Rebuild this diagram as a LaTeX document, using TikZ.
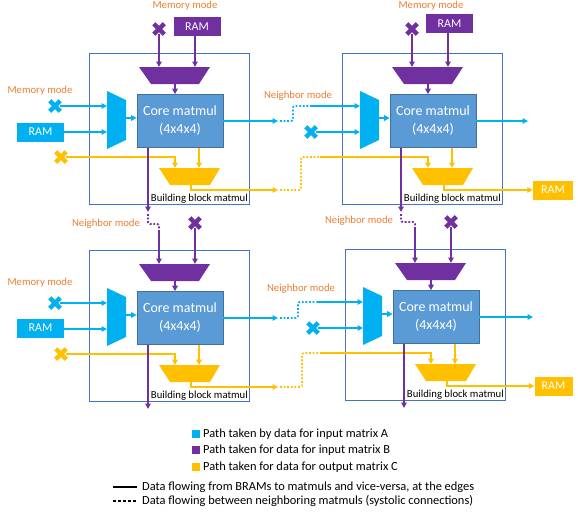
\documentclass[tikz,border=0pt]{standalone}
\usepackage{fontspec}
\setmainfont{Carlito}
\usetikzlibrary{arrows.meta}
\definecolor{cblue}{HTML}{00B0F0}
\definecolor{cpurp}{HTML}{7030A0}
\definecolor{cyel}{HTML}{FFC000}
\definecolor{ccore}{HTML}{5B9BD5}
\definecolor{ccoreb}{HTML}{41719C}
\definecolor{corange}{HTML}{ED7D31}
\definecolor{crect}{HTML}{4472C4}
\tikzset{
  arr/.style={line width=1.8pt, -{Triangle[length=5.5pt,width=5.5pt]}},
  dotl/.style={line width=1.8pt, dash pattern=on 1.8pt off 1.8pt, rounded corners=2pt},
  blockrect/.style={draw=crect, line width=0.8pt, minimum width=160pt, minimum height=151pt, inner sep=0pt},
  core/.style={fill=ccore, draw=ccoreb, line width=0.7pt, minimum width=86pt, minimum height=53pt, inner sep=0pt, text=white, align=center, font=\fontsize{14}{18}\selectfont},
  ram/.style={fill=#1, minimum width=47pt, minimum height=19pt, inner sep=0pt, text=white, font=\fontsize{12}{14}\selectfont},
  olab/.style={text=corange, inner sep=0pt, font=\fontsize{10.7}{12}\selectfont},
  bblab/.style={inner sep=0pt, anchor=east, font=\fontsize{10.7}{12}\selectfont},
  xmk/.style={minimum size=10.5pt, inner sep=0pt, outer sep=0pt},
  legt/.style={inner sep=0pt, anchor=west, font=\fontsize{12.4}{14}\selectfont},
  legsq/.style={fill=#1, minimum size=8.5pt, inner sep=0pt},
}
\newcommand\xcross[2]{\draw[line width=4.3pt,#2] (#1.north west) -- (#1.south east) (#1.north east) -- (#1.south west);}
\newcommand\mmblock[3]{%
\begin{scope}[shift={(#2,#3)}]
  \node[blockrect] (#1box) at (169,128.5) {};
  \node[core] (#1core) at (180,121) {Core matmul\\(4x4x4)};
  \fill[cpurp] (139,67) -- (210,67) -- (199,84) -- (151,84) -- cycle;
  \coordinate (#1ptop1) at (159,67);
  \coordinate (#1ptop2) at (195,67);
  \coordinate (#1pbot) at (175,84);
  \fill[cblue] (107,91) -- (126,100) -- (126,140) -- (107,149) -- cycle;
  \coordinate (#1min1) at (107,106);
  \coordinate (#1min2) at (107,132);
  \coordinate (#1mout) at (126,118);
  \fill[cyel] (159,168) -- (220,168) -- (210,185) -- (170,185) -- cycle;
  \coordinate (#1ytop1) at (175,168);
  \coordinate (#1ytop2) at (199,168);
  \coordinate (#1ybot) at (191,185);
  \coordinate (#1pout) at (148,212);
  \node[bblab] (#1lab) at (248,199) {Building block matmul};
  \draw[arr,cpurp] (#1pbot) -- (#1core.north -| #1pbot);
  \draw[arr,cblue] (#1mout) -- (#1core.west |- #1mout);
  \draw[arr,cyel] (#1core.south -| #1ytop2) -- (#1ytop2);
\end{scope}}
\begin{document}
\begin{tikzpicture}[x=1pt,y=-1pt]
\useasboundingbox (0,0) rectangle (578,514);
\mmblock{a}{0}{0}
\mmblock{b}{253}{0}
\mmblock{c}{0}{197}
\mmblock{d}{256}{196}

% ---------- Block A inputs
\node[olab] (mmA) at (185,6) {Memory mode};
\node[xmk] (pxA) at (159,29) {}; \xcross{pxA}{cpurp}
\node[ram=cpurp] (ramPA) at (197,26.5) {RAM};
\draw[arr,cpurp] (pxA) -- (aptop1);
\draw[arr,cpurp] (ramPA.south -| aptop2) -- (aptop2);
\node[olab] (mmA2) at (40,91) {Memory mode};
\node[xmk] (bxA) at (55,106) {}; \xcross{bxA}{cblue}
\draw[arr,cblue] (bxA) -- (amin1);
\node[ram=cblue] (ramBA) at (40.5,132) {RAM};
\draw[arr,cblue] (ramBA.east |- amin2) -- (amin2);
\node[xmk] (yxA) at (61,157) {}; \xcross{yxA}{cyel}
\draw[arr,cyel] (yxA) -| (aytop1);

% ---------- Block B inputs
\node[olab] (mmB) at (431,6) {Memory mode};
\node[xmk] (pxB) at (412,29) {}; \xcross{pxB}{cpurp}
\node[ram=cpurp] (ramPB) at (449.5,23.5) {RAM};
\draw[arr,cpurp] (pxB) -- (bptop1);
\draw[arr,cpurp] (ramPB.south -| bptop2) -- (bptop2);
\node[olab] (nmB) at (298,96) {Neighbor mode};
% blue A -> B
\coordinate (aBend) at (278,121);
\coordinate (aBd1) at (280,121);
\coordinate (aBd2) at (293,121);
\coordinate (aBd3) at (293,106);
\coordinate (aBd4) at (312,106);
\draw[arr,cblue] (acore.east |- aBend) -- (aBend);
\draw[dotl,cblue] (aBd1) -- (aBd2) -- (aBd3) -- (aBd4);
\draw[arr,cblue] (aBd4) -- (bmin1);
\node[xmk] (bxB) at (311,132) {}; \xcross{bxB}{cblue}
\draw[arr,cblue] (bxB) -- (bmin2);
% yellow A -> B
\coordinate (aYend) at (278,190);
\coordinate (aYd1) at (280,190);
\coordinate (aYd2) at (301,190);
\coordinate (aYd3) at (301,157);
\coordinate (aYd4) at (320,157);
\draw[arr,cyel] (aybot) |- (aYend);
\draw[dotl,cyel] (aYd1) -- (aYd2) -- (aYd3) -- (aYd4);
\draw[arr,cyel] (aYd4) -| (bytop1);
% B outputs
\coordinate (bBend) at (528,121);
\draw[arr,cblue] (bcore.east |- bBend) -- (bBend);
\node[ram=cyel, minimum width=40pt] (ramYB) at (553,190) {RAM};
\draw[arr,cyel] (bybot) |- (ramYB.west);

% ---------- Block C inputs
\coordinate (aPd1) at (148,214);
\coordinate (aPd2) at (148,224);
\coordinate (aPd3) at (159,224);
\coordinate (aPd4) at (159,230);
\draw[arr,cpurp] (acore.south -| apout) -- (apout);
\draw[dotl,cpurp] (aPd1) -- (aPd2) -- (aPd3) -- (aPd4);
\draw[arr,cpurp] (aPd4) -- (cptop1);
\node[olab] (nmC) at (106,224) {Neighbor mode};
\node[xmk] (pxC) at (195,223) {}; \xcross{pxC}{cpurp}
\draw[arr,cpurp] (pxC) -- (cptop2);
\node[olab] (mmC) at (40,283) {Memory mode};
\node[xmk] (bxC) at (55,303) {}; \xcross{bxC}{cblue}
\draw[arr,cblue] (bxC) -- (cmin1);
\node[ram=cblue] (ramBC) at (40.5,328) {RAM};
\draw[arr,cblue] (ramBC.east |- cmin2) -- (cmin2);
\node[xmk] (yxC) at (61,354) {}; \xcross{yxC}{cyel}
\draw[arr,cyel] (yxC) -| (cytop1);
\draw[arr,cpurp] (ccore.south -| cpout) -- (cpout);

% ---------- Block D inputs
\coordinate (bPd1) at (401,214);
\coordinate (bPd2) at (401,222);
\coordinate (bPd3) at (415,222);
\coordinate (bPd4) at (415,228);
\draw[arr,cpurp] (bcore.south -| bpout) -- (bpout);
\draw[dotl,cpurp] (bPd1) -- (bPd2) -- (bPd3) -- (bPd4);
\draw[arr,cpurp] (bPd4) -- (dptop1);
\node[olab] (nmD) at (359,221) {Neighbor mode};
\node[xmk] (pxD) at (451,222) {}; \xcross{pxD}{cpurp}
\draw[arr,cpurp] (pxD) -- (dptop2);
\node[olab] (nmD2) at (301,289) {Neighbor mode};
% blue C -> D
\coordinate (cBend) at (278,318);
\coordinate (cBd1) at (280,318);
\coordinate (cBd2) at (298,318);
\coordinate (cBd3) at (298,302);
\coordinate (cBd4) at (318,302);
\draw[arr,cblue] (ccore.east |- cBend) -- (cBend);
\draw[dotl,cblue] (cBd1) -- (cBd2) -- (cBd3) -- (cBd4);
\draw[arr,cblue] (cBd4) -- (dmin1);
\node[xmk] (bxD) at (313,328) {}; \xcross{bxD}{cblue}
\draw[arr,cblue] (bxD) -- (dmin2);
% yellow C -> D
\coordinate (cYend) at (278,387);
\coordinate (cYd1) at (280,387);
\coordinate (cYd2) at (302,387);
\coordinate (cYd3) at (302,353);
\coordinate (cYd4) at (320,353);
\draw[arr,cyel] (cybot) |- (cYend);
\draw[dotl,cyel] (cYd1) -- (cYd2) -- (cYd3) -- (cYd4);
\draw[arr,cyel] (cYd4) -| (dytop1);
% D outputs
\coordinate (dBend) at (533,317);
\draw[arr,cblue] (dcore.east |- dBend) -- (dBend);
\node[ram=cyel, minimum width=38pt] (ramYD) at (553.5,386) {RAM};
\draw[arr,cyel] (dybot) |- (ramYD.west);
\draw[arr,cpurp] (dcore.south -| dpout) -- (dpout);

% ---------- Legend
\node[legsq=cblue] (lgA) at (196,434) {};
\node[legt] (lgAt) at (203,434) {Path taken by data for input matrix A};
\node[legsq=cpurp] (lgB) at (196,450) {};
\node[legt] (lgBt) at (203,450) {Path taken for data for input matrix B};
\node[legsq=cyel] (lgC) at (196,467) {};
\node[legt] (lgCt) at (203,467) {Path taken for data for output matrix C};
\coordinate (ls1) at (113,487);
\coordinate (ls2) at (137,487);
\draw[line width=2.5pt] (ls1) -- (ls2);
\node[legt] (lgSt) at (142,487) {Data flowing from BRAMs to matmuls and vice-versa, at the edges};
\coordinate (ld1) at (113,501);
\coordinate (ld2) at (137,501);
\draw[line width=2.5pt, dash pattern=on 3pt off 2pt] (ld1) -- (ld2);
\node[legt] (lgDt) at (142,501) {Data flowing between neighboring matmuls (systolic connections)};
\end{tikzpicture}
\end{document}
